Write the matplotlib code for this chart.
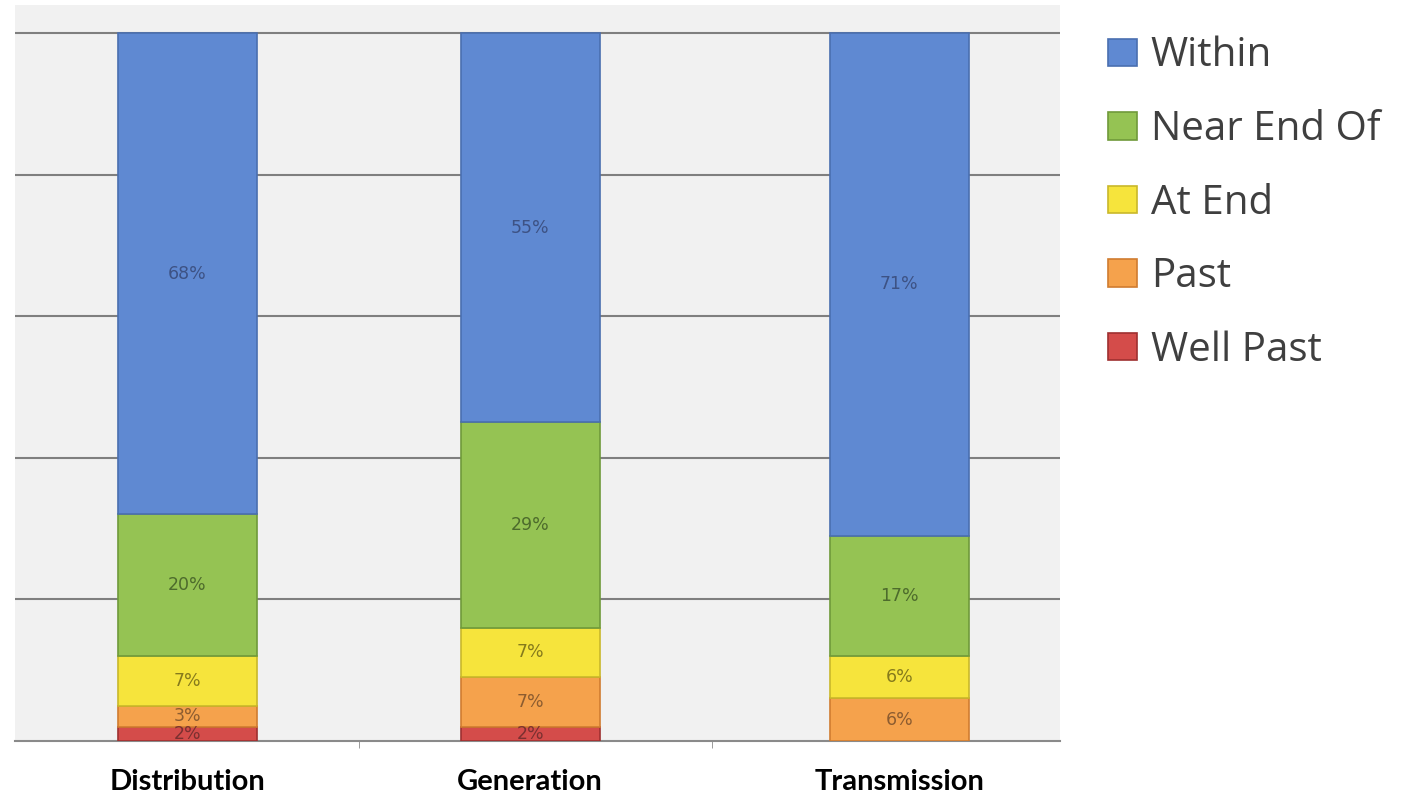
import matplotlib
matplotlib.use("Agg")
import matplotlib.pyplot as plt
import numpy as np

categories = ["Distribution", "Generation", "Transmission"]
series_names = ["Within", "Near End Of", "At End", "Past", "Well Past"]
within = [68, 55, 71]
near_end = [20, 29, 17]
at_end = [7, 7, 6]
past = [3, 7, 6]
well_past = [2, 2, 0]

# layout (not data)
positions = [0.0, 1.0, 2.076]
colors = {"Within": "#5f89d2", "Near End Of": "#95c353", "At End": "#f6e43c",
          "Past": "#f5a24c", "Well Past": "#d44c4a"}
edges = {"Within": "#4a6fb0", "Near End Of": "#6f9a3a", "At End": "#c9b82a",
         "Past": "#d07c30", "Well Past": "#9e3030"}
txtcol = {"Within": "#3d5284", "Near End Of": "#4d6b2c", "At End": "#857a1c",
          "Past": "#8c5c30", "Well Past": "#7a3030"}

fig = plt.figure(figsize=(14.23, 7.94), dpi=100)
ax = fig.add_axes([0.0105, 0.0668, 0.7345, 0.927])
ax.set_facecolor("#f1f1f1")

stack_order = [("Well Past", well_past), ("Past", past), ("At End", at_end),
               ("Near End Of", near_end), ("Within", within)]
bottom = np.zeros(len(categories))
handles = {}
for name, vals in stack_order:
    vals = np.array(vals, dtype=float)
    bars = ax.bar(positions, vals, width=0.405, bottom=bottom, color=colors[name],
                  edgecolor=edges[name], linewidth=1.2, zorder=3, label=name)
    handles[name] = bars
    for x, b, v in zip(positions, bottom, vals):
        if v > 0:
            ax.text(x, b + v / 2, f"{int(v)}%", ha="center", va="center",
                    fontsize=12.5, color=txtcol[name], family="DejaVu Sans",
                    zorder=4)
    bottom += vals

ax.set_ylim(0, 104)
ax.set_xlim(-0.502, 2.545)
ax.set_yticks([20, 40, 60, 80, 100])
ax.yaxis.grid(True, color="#7f7f7f", linewidth=1.5, zorder=1)
ax.tick_params(axis="y", left=False, labelleft=False)
for s in ["top", "right", "left"]:
    ax.spines[s].set_visible(False)
ax.spines["bottom"].set_color("#8a8a8a")
ax.spines["bottom"].set_linewidth(1.5)

ax.set_xticks(positions)
ax.set_xticklabels(categories, fontsize=21, fontweight="bold", family="Lato",
                   color="black")
ax.tick_params(axis="x", length=0, pad=20)
ax.set_xticks([0.5, 1.53], minor=True)
ax.tick_params(axis="x", which="minor", length=5, color="#8a8a8a")

leg = fig.legend([handles[n] for n in series_names], series_names,
                 loc="upper left", bbox_to_anchor=(0.767, 0.975), frameon=False,
                 prop={"family": "Open Sans", "size": 29}, labelcolor="#3f3f3f",
                 handlelength=0.72, handleheight=0.68, handletextpad=0.35,
                 labelspacing=0.82, borderaxespad=0)

fig.savefig("out.png", dpi=100, facecolor="white")
